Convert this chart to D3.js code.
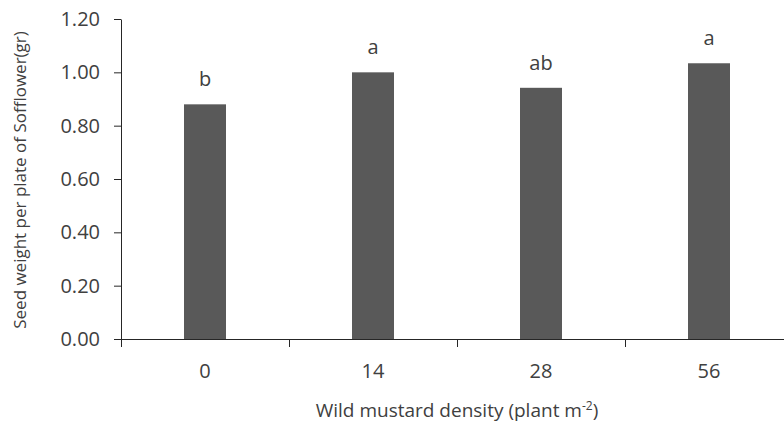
<!DOCTYPE html>
<html>
<head>
<meta charset="utf-8">
<script src="https://cdn.jsdelivr.net/npm/d3@7"></script>
<style>
  body { margin: 0; background: #fff; }
  svg { display: block; font-family: "Open Sans", sans-serif; }
</style>
</head>
<body>
<div id="vizcont"></div>
<script>
// data
var densities = ["0", "14", "28", "56"];
var seedWeight = [0.88, 1.00, 0.942, 1.034];
var letters = ["b", "a", "ab", "a"];
var yTicks = [0, 0.2, 0.4, 0.6, 0.8, 1.0, 1.2];

var width = 784, height = 425;
var left = 121, step = 168, plotTop = 19, plotBottom = 339;

var svg = d3.select("#vizcont")
    .append("svg")
    .attr("width", width)
    .attr("height", height);

var ink = "#404040";

// x scale: bars are a quarter of each band
var x = d3.scaleBand()
    .domain(densities)
    .range([left, left + step * densities.length])
    .paddingInner(0.75)
    .paddingOuter(0.375);

// linear helper for the band boundary ticks
var xb = d3.scaleLinear()
    .domain([0, densities.length])
    .range([left, left + step * densities.length]);

var y = d3.scaleLinear()
    .domain([0, 1.2])
    .range([plotBottom, plotTop]);

// bars
svg.selectAll("rect.bar")
    .data(seedWeight)
    .enter()
    .append("rect")
    .attr("class", "bar")
    .attr("x", function(d, i) { return x(densities[i]); })
    .attr("y", function(d) { return y(d); })
    .attr("width", x.bandwidth())
    .attr("height", function(d) { return plotBottom - y(d); })
    .style("fill", "#595959");

// significance letters
svg.selectAll("text.sig")
    .data(seedWeight)
    .enter()
    .append("text")
    .attr("class", "sig")
    .attr("x", function(d, i) { return x(densities[i]) + x.bandwidth() / 2; })
    .attr("y", function(d) { return y(d) - 18; })
    .attr("text-anchor", "middle")
    .style("font-size", "20px")
    .style("fill", ink)
    .text(function(d, i) { return letters[i]; });

// y axis
var yAxis = svg.append("g")
    .attr("transform", "translate(" + left + ",0)")
    .call(d3.axisLeft(y).tickValues(yTicks).tickFormat(d3.format(".2f")).tickSize(7).tickSizeOuter(0).tickPadding(14));
yAxis.attr("font-family", null).attr("font-size", null);
yAxis.selectAll("text").style("font-size", "20px").style("fill", ink);
yAxis.selectAll("line, path").style("stroke", "#262626");

// x axis boundary ticks
var xTickAxis = svg.append("g")
    .attr("transform", "translate(0," + plotBottom + ")")
    .call(d3.axisBottom(xb).ticks(densities.length).tickFormat("").tickSize(8).tickSizeOuter(0));
xTickAxis.selectAll("line, path").style("stroke", "#262626");

// x axis category labels
var xAxis = svg.append("g")
    .attr("transform", "translate(0," + plotBottom + ")")
    .call(d3.axisBottom(x).tickSize(0).tickPadding(25));
xAxis.attr("font-family", null).attr("font-size", null);
xAxis.select("path").remove();
xAxis.selectAll("text").style("font-size", "20px").style("fill", ink);

// axis titles
var xTitle = svg.append("text")
    .attr("x", 457)
    .attr("y", 417)
    .attr("text-anchor", "middle")
    .style("font-size", "19px")
    .style("fill", ink);
xTitle.append("tspan").text("Wild mustard density (plant m");
xTitle.append("tspan").attr("dy", -7).style("font-size", "12px").text("-2");
xTitle.append("tspan").attr("dy", 7).text(")");

svg.append("text")
    .attr("transform", "translate(26,180) rotate(-90)")
    .attr("text-anchor", "middle")
    .style("font-size", "17px")
    .style("fill", ink)
    .text("Seed weight per plate of Sofflower(gr)");
</script>
</body>
</html>
